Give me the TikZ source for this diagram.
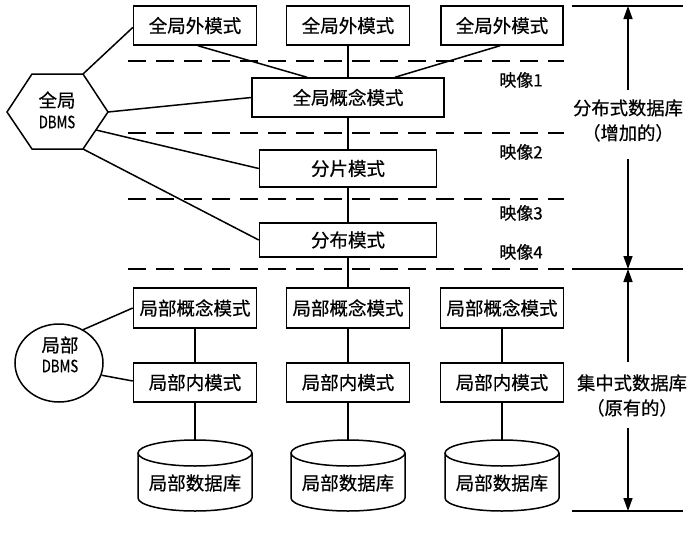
\documentclass[tikz,border=0pt]{standalone}
\usepackage{fontspec}
\setmainfont{Noto Sans CJK SC}[FakeBold=0.5]
\usepackage{graphicx}
\usetikzlibrary{arrows.meta,shapes.geometric}
\begin{document}
\begin{tikzpicture}[x=1pt,y=-1pt,
  box/.style={draw,line width=1.5pt,minimum width=123pt,minimum height=39pt,inner sep=0pt,font=\fontsize{18.5}{20}\selectfont},
  ln/.style={line width=1.5pt},
  dsh/.style={line width=1.5pt,dash pattern=on 18pt off 10pt},
  lbl/.style={font=\fontsize{17}{19}\selectfont,inner sep=0pt},
  side/.style={font=\fontsize{18.3}{25}\selectfont,align=center,inner sep=0pt},
  arr/.style={line width=1.5pt,-{Triangle[length=13pt,width=9pt]}},
  dbtext/.style={inner sep=0pt,font=\fontsize{18.5}{20}\selectfont},
  big/.style={inner sep=0pt,font=\fontsize{18.5}{20}\selectfont},
  dbms/.style={inner sep=0pt,font=\fontsize{17}{20}\selectfont},
]
\useasboundingbox (0,0) rectangle (690,557);
\fill[white] (0,0) rectangle (690,557);

% dashed separators
\draw[dsh] (128,61) -- (564,61);
\draw[dsh] (128,133) -- (564,133);
\draw[dsh] (128,199) -- (564,199);
\draw[dsh] (128,269) -- (564,269);

% global part
\node[box] (ge1) at (195,25.5) {全局外模式};
\node[box] (ge2) at (348,25.5) {全局外模式};
\node[box,minimum width=122pt] (ge3) at (502,25.5) {全局外模式};
\node[box,minimum width=192pt] (gc) at (348,97.5) {全局概念模式};
\node[box,minimum width=177pt,minimum height=37pt] (fr) at (348,168.5) {分片模式};
\node[box,minimum width=177pt,minimum height=34pt] (di) at (348,240) {分布模式};

% mapping labels
\node[lbl] (m1) at (521,80) {映像1};
\node[lbl] (m2) at (521,152) {映像2};
\node[lbl] (m3) at (521,213) {映像3};
\node[lbl] (m4) at (521,252) {映像4};

% local part
\foreach \i/\x in {1/195,2/348,3/502}{
  \node[box,minimum height=40pt] (lc\i) at (\x,308) {局部概念模式};
  \node[box] (li\i) at (\x,382.5) {局部内模式};
  \draw[ln] (\x,453) ellipse [x radius=57, y radius=13];
  \draw[ln] (\x-57,453) -- (\x-57,498) arc[start angle=180, end angle=0, x radius=57, y radius=13] -- (\x+57,453);
  \coordinate (db\i t) at (\x,440);
  \node[dbtext] (db\i) at (\x,483) {局部数据库};
  \draw[ln] (lc\i.south) -- (li\i.north);
  \draw[ln] (li\i.south) -- (db\i t);
}

% vertical connectors
\draw[ln] (ge2.south) -- (gc.north);
\draw[ln] (gc.south) -- (fr.north);
\draw[ln] (fr.south) -- (di.north);
\draw[ln] (di.south) -- (lc2.north);
\draw[ln] ([xshift=3pt]ge1.south) -- ([xshift=-41pt]gc.north);
\draw[ln] ([xshift=-2pt]ge3.south) -- ([xshift=47pt]gc.north);

% global DBMS hexagon
\coordinate (h1) at (7,112);
\coordinate (h2) at (32,74);
\coordinate (h3) at (83,74);
\coordinate (h4) at (108,112);
\coordinate (h5) at (83,149);
\coordinate (h6) at (32,149);
\coordinate (hm) at (96,130);
\draw[ln,line join=miter] (h1) -- (h2) -- (h3) -- (h4) -- (h5) -- (h6) -- cycle;
\node[big] (gd1) at (57,100) {全局};
\node[dbms] (gd2) at (57,122) {\scalebox{0.78}[1]{DBMS}};
\draw[ln] (h3) -- ([yshift=-2pt]ge1.west);
\draw[ln] (h4) -- (gc.west);
\draw[ln] (hm) -- (fr.west);
\draw[ln] (h5) -- (di.west);

% local DBMS ellipse
\node[draw,ln,ellipse,minimum width=88pt,minimum height=78pt,inner sep=0pt] (ld) at (59,363) {};
\node[big] (ld1) at (60,345) {局部};
\node[dbms] (ld2) at (60,366) {\scalebox{0.78}[1]{DBMS}};
\draw[ln] (ld.54) -- (lc1.west);
\draw[ln] (ld.-16) -- ([yshift=1.5pt]li1.west);

% right side
\draw[ln] (572,6) -- (683,6);
\draw[ln] (572,269) -- (683,269);
\draw[ln] (572,511) -- (683,511);
\node[side] (st1) at (628,120.5) {分布式数据库\\（增加的）};
\node[side] (st2) at (632,395.5) {集中式数据库\\（原有的）};
\coordinate (a1) at (628,6);
\coordinate (a2) at (628,90);
\coordinate (a3) at (628,159);
\coordinate (a4) at (628,269);
\coordinate (a5) at (628,362);
\coordinate (a6) at (628,428);
\coordinate (a7) at (628,511);
\draw[arr] (a2) -- (a1);
\draw[arr] (a3) -- (a4);
\draw[arr] (a5) -- (a4);
\draw[arr] (a6) -- (a7);
\end{tikzpicture}
\end{document}
